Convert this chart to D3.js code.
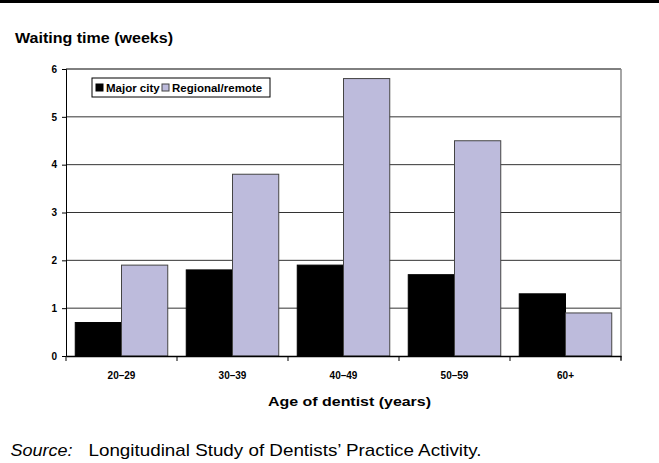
<html>
<head>
<script src="https://d3js.org/d3.v7.min.js"></script>
<style>
body { margin: 0; background: #fff; }
svg { display: block; font-family: Arial, "Liberation Sans", sans-serif; }
</style>
</head>
<body>
<svg width="659" height="463"></svg>
<script>

// data
var ages = ["20–29", "30–39", "40–49", "50–59", "60+"];
var seriesNames = ["Major city", "Regional/remote"];
var majorCity = [0.7, 1.8, 1.9, 1.7, 1.3];
var regional = [1.9, 3.8, 5.8, 4.5, 0.9];
var yTicks = [0, 1, 2, 3, 4, 5, 6];
var colors = ["#000000", "#bdbbdc"];

var svg = d3.select("svg");

var mLeft = 66, mRight = 621, mTop = 69, mBottom = 356;

var x0 = d3.scaleBand().domain(ages).range([mLeft, mRight]).paddingInner(0).paddingOuter(0);
var x1 = d3.scaleBand().domain(seriesNames).range([0, x0.bandwidth()]).paddingInner(0).paddingOuter(0.2);
var y = d3.scaleLinear().domain([0, 6]).range([mBottom, mTop]);

// thick rule at the very top
svg.append("rect").attr("x", 0).attr("y", 0).attr("width", 659).attr("height", 3).attr("fill", "#000");

// gridlines
svg.selectAll("line.grid").data(yTicks.slice(1)).enter().append("line")
  .attr("class", "grid")
  .attr("x1", mLeft).attr("x2", mRight)
  .attr("y1", function (d) { return y(d); }).attr("y2", function (d) { return y(d); })
  .attr("stroke", function (d) { return d == 6 ? "#000" : "#333"; })
  .attr("stroke-width", 1);

// right border of plot area
svg.append("line").attr("x1", mRight).attr("x2", mRight).attr("y1", mTop).attr("y2", mBottom + 4)
  .attr("stroke", "#888").attr("stroke-width", 1.5);

var rows = ages.map(function (a, i) {
  return [{ s: seriesNames[0], v: majorCity[i] }, { s: seriesNames[1], v: regional[i] }];
});

var groups = svg.selectAll("g.cat").data(rows).enter().append("g")
  .attr("class", "cat")
  .attr("transform", function (d, i) { return "translate(" + x0(ages[i]) + ",0)"; });

groups.selectAll("rect").data(function (d) { return d; }).enter().append("rect")
  .attr("x", function (d) { return x1(d.s); })
  .attr("width", x1.bandwidth())
  .attr("y", function (d) { return y(d.v); })
  .attr("height", function (d) { return mBottom - y(d.v); })
  .attr("fill", function (d, i) { return colors[i]; })
  .attr("stroke", function (d, i) { return i == 0 ? "#000" : "#444"; })
  .attr("stroke-width", 1);

// y axis
var yAxis = svg.append("g").attr("transform", "translate(" + mLeft + ",0)")
  .call(d3.axisLeft(y).tickValues(yTicks).tickSize(4).tickPadding(5).tickFormat(d3.format("d")));
yAxis.select(".domain").attr("stroke", "#000");
yAxis.selectAll("text").attr("font-size", 10).attr("font-weight", "bold").attr("font-family", null);

// x axis
var xAxis = svg.append("g").attr("transform", "translate(0," + mBottom + ")")
  .call(d3.axisBottom(x0).tickSize(0).tickPadding(16));
xAxis.select(".domain").attr("stroke", "#000").attr("stroke-width", 1.5);
xAxis.selectAll("text").attr("font-size", 10).attr("font-weight", "bold").attr("font-family", null);

// category dividers below the axis
svg.selectAll("line.xtick").data(d3.range(ages.length + 1)).enter().append("line")
  .attr("class", "xtick")
  .attr("x1", function (i) { return mLeft + i * x0.step(); })
  .attr("x2", function (i) { return mLeft + i * x0.step(); })
  .attr("y1", mBottom).attr("y2", mBottom + 5)
  .attr("stroke", "#000");

// titles
svg.append("text").attr("x", 15).attr("y", 42.5)
  .attr("font-size", 14).attr("font-weight", "bold")
  .attr("textLength", 158).attr("lengthAdjust", "spacingAndGlyphs")
  .text("Waiting time (weeks)");
svg.append("text").attr("x", 268).attr("y", 406)
  .attr("font-size", 13).attr("font-weight", "bold")
  .attr("textLength", 163).attr("lengthAdjust", "spacingAndGlyphs")
  .text("Age of dentist (years)");

// legend
var lg = svg.append("g").attr("transform", "translate(92,78)");
lg.append("rect").attr("width", 178).attr("height", 19).attr("fill", "#fff").attr("stroke", "#000");
var legX = [4, 70];
seriesNames.forEach(function (n, i) {
  lg.append("rect").attr("x", legX[i]).attr("y", 6).attr("width", 7).attr("height", 7)
    .attr("fill", colors[i]).attr("stroke", i == 0 ? "#000" : "#444");
  lg.append("text").attr("x", legX[i] + 10).attr("y", 13.5).attr("font-size", 11.5)
    .attr("font-weight", "bold").text(n);
});

// source
var src = svg.append("g").attr("font-size", 17);
src.append("text").attr("x", 10.5).attr("y", 456).attr("font-style", "italic")
  .attr("textLength", 62).attr("lengthAdjust", "spacingAndGlyphs").text("Source:");
src.append("text").attr("x", 88.5).attr("y", 456)
  .attr("textLength", 393).attr("lengthAdjust", "spacingAndGlyphs")
  .text("Longitudinal Study of Dentists’ Practice Activity.");

</script>
</body>
</html>
